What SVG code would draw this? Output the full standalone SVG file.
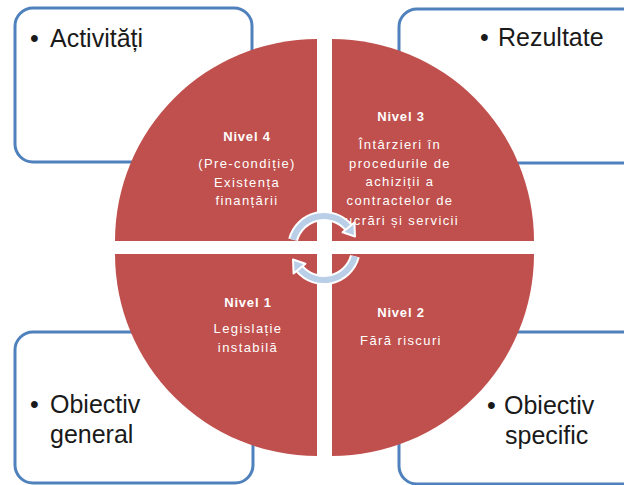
<svg xmlns="http://www.w3.org/2000/svg" width="624" height="485" viewBox="0 0 624 485">
<style>
.box{fill:#fff;stroke:#4F81BD;stroke-width:3}
.bt{font-family:"Liberation Sans",Arial,sans-serif;font-size:25px;fill:#1a1a1a}
.q{fill:#C0504D}
.qt{font-family:"Liberation Sans",Arial,sans-serif;font-size:13px;fill:#fff;text-anchor:middle;letter-spacing:1.4px}
.qb{font-weight:bold;letter-spacing:0.8px}
.arcw{fill:none;stroke:#fff;stroke-width:10}
.arcb{fill:none;stroke:#B9CFE8;stroke-width:6}
.head{fill:#B9CFE8;stroke:#fff;stroke-width:2;stroke-linejoin:round}
</style>
<rect width="624" height="485" fill="#fff"/>
<g id="box-activitati">
<rect class="box" x="15" y="8" width="237" height="154" rx="18"/>
<text class="bt" y="47"><tspan x="30">•</tspan><tspan x="50">Activități</tspan></text>
</g>
<g id="box-rezultate">
<rect class="box" x="399" y="9" width="260" height="154" rx="18"/>
<text class="bt" y="46"><tspan x="480">•</tspan><tspan x="498">Rezultate</tspan></text>
</g>
<g id="box-obiectiv-general">
<rect class="box" x="15" y="332" width="238" height="151" rx="18"/>
<text class="bt" x="30" y="413"><tspan x="30">•</tspan><tspan x="50">Obiectiv</tspan></text>
<text class="bt" x="50" y="443">general</text>
</g>
<g id="box-obiectiv-specific">
<rect class="box" x="399" y="332" width="260" height="152" rx="18"/>
<text class="bt" y="414"><tspan x="487">•</tspan><tspan x="504">Obiectiv</tspan></text>
<text class="bt" x="505" y="444">specific</text>
</g>
<g id="nivel4">
<path class="q" d="M317,241 L115,241 A202,202 0 0 1 317,39 Z"/>
<text class="qt"><tspan class="qb" x="247" y="141">Nivel 4</tspan><tspan x="247" y="168">(Pre-condiție)</tspan><tspan x="247" y="187">Existența</tspan><tspan x="247" y="205">finanțării</tspan></text>
</g>
<g id="nivel3">
<path class="q" d="M332,241 L332,39 A202,202 0 0 1 534,241 Z"/>
<text class="qt"><tspan class="qb" x="401" y="121">Nivel 3</tspan><tspan x="400" y="149">Întârzieri în</tspan><tspan x="400" y="168">procedurile de</tspan><tspan x="400" y="186">achiziții a</tspan><tspan x="400" y="205">contractelor de</tspan><tspan x="400" y="225">lucrări și servicii</tspan></text>
</g>
<g id="nivel1">
<path class="q" d="M317,254 L317,456 A202,202 0 0 1 115,254 Z"/>
<text class="qt"><tspan class="qb" x="248" y="307">Nivel 1</tspan><tspan x="248" y="333">Legislație</tspan><tspan x="248" y="352">instabilă</tspan></text>
</g>
<g id="nivel2">
<path class="q" d="M332,254 L534,254 A202,202 0 0 1 332,456 Z"/>
<text class="qt"><tspan class="qb" x="401" y="317">Nivel 2</tspan><tspan x="401" y="345">Fără riscuri</tspan></text>
</g>
<g id="connectors">
<path class="arcw" d="M293.1,239.7 A32,32 0 0 1 348.5,227.4"/>
<path class="arcb" d="M293.1,239.7 A32,32 0 0 1 348.5,227.4"/>
<polygon class="head" points="354.4,222.5 342.6,232.3 355,236.5"/>
<path class="arcw" d="M354.9,256.3 A32,32 0 0 1 299.5,268.6"/>
<path class="arcb" d="M354.9,256.3 A32,32 0 0 1 299.5,268.6"/>
<polygon class="head" points="293.6,273.5 305.4,263.7 293,259.5"/>
</g>
</svg>
